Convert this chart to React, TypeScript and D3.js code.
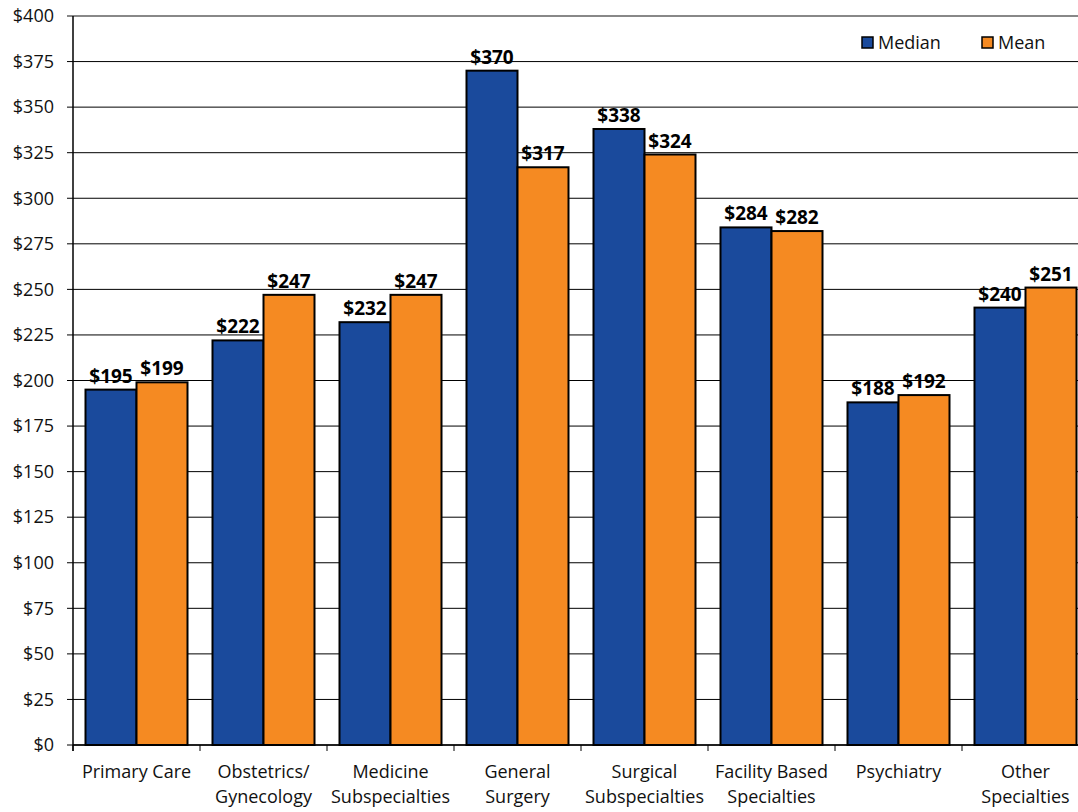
import React from "react";
import * as d3 from "d3";

const categories = [
  ["Primary Care"],
  ["Obstetrics/", "Gynecology"],
  ["Medicine", "Subspecialties"],
  ["General", "Surgery"],
  ["Surgical", "Subspecialties"],
  ["Facility Based", "Specialties"],
  ["Psychiatry"],
  ["Other", "Specialties"],
];
const medianValues = [195, 222, 232, 370, 338, 284, 188, 240];
const meanValues = [199, 247, 247, 317, 324, 282, 192, 251];
const yTicks = d3.range(0, 401, 25);
const seriesNames = ["Median", "Mean"];
const colors = ["#1a4a9c", "#f58a22"];

export default function App() {
  const W = 1078, H = 812;
  const left = 73, top = 16, bottom = 745;
  const catW = 127;
  const y = d3.scaleLinear().domain([0, 400]).range([bottom, top]);
  const x0 = d3.scaleBand<number>().domain(d3.range(8)).range([left, left + catW * 8]).paddingInner(0).paddingOuter(0);
  const x1 = d3.scaleBand<number>().domain([0, 1]).range([12.5, catW - 12.5]);
  const font = "'Open Sans', sans-serif";
  return (
    <svg width={W} height={H} style={{ position: "absolute", left: 0, top: 0 }} fontFamily={font}>
      {yTicks.map((t) => (
        <g key={t}>
          <line x1={left - 6} x2={W} y1={y(t)} y2={y(t)} stroke={t === 400 ? "#888" : "#000"} strokeWidth={t === 400 ? 2 : 1} />
          <text x={left - 19} y={y(t)} dy="0.35em" textAnchor="end" fontSize={18} fill="#111">${t}</text>
        </g>
      ))}
      {categories.map((c, i) => {
        const gx = x0(i)!;
        return (
          <g key={i}>
            {[medianValues[i], meanValues[i]].map((v, s) => (
              <g key={s}>
                <rect x={gx + x1(s)!} y={y(v)} width={x1.bandwidth()} height={bottom - y(v)} fill={colors[s]} stroke="#000" strokeWidth={2} />
                <text x={gx + x1(s)! + x1.bandwidth() / 2} y={y(v) - 7} textAnchor="middle" fontSize={19} fontWeight="bold" fill="#000">${v}</text>
              </g>
            ))}
            <line x1={gx} x2={gx} y1={bottom} y2={bottom + 6} stroke="#000" />
            {c.map((l, k) => (
              <text key={k} x={gx + catW / 2} y={778 + k * 25} textAnchor="middle" fontSize={18} fill="#111">{l}</text>
            ))}
          </g>
        );
      })}
      <line x1={left} x2={W} y1={bottom} y2={bottom} stroke="#000" strokeWidth={1.5} />
      <line x1={left} x2={left} y1={top} y2={bottom + 6} stroke="#000" strokeWidth={1.5} />
      {seriesNames.map((n, s) => (
        <g key={n} transform={`translate(${862 + s * 120},37)`}>
          <rect x={0} y={0} width={11} height={11} fill={colors[s]} stroke="#000" strokeWidth={1.5} />
          <text x={16} y={6} dy="0.35em" fontSize={18} fill="#111">{n}</text>
        </g>
      ))}
    </svg>
  );
}
